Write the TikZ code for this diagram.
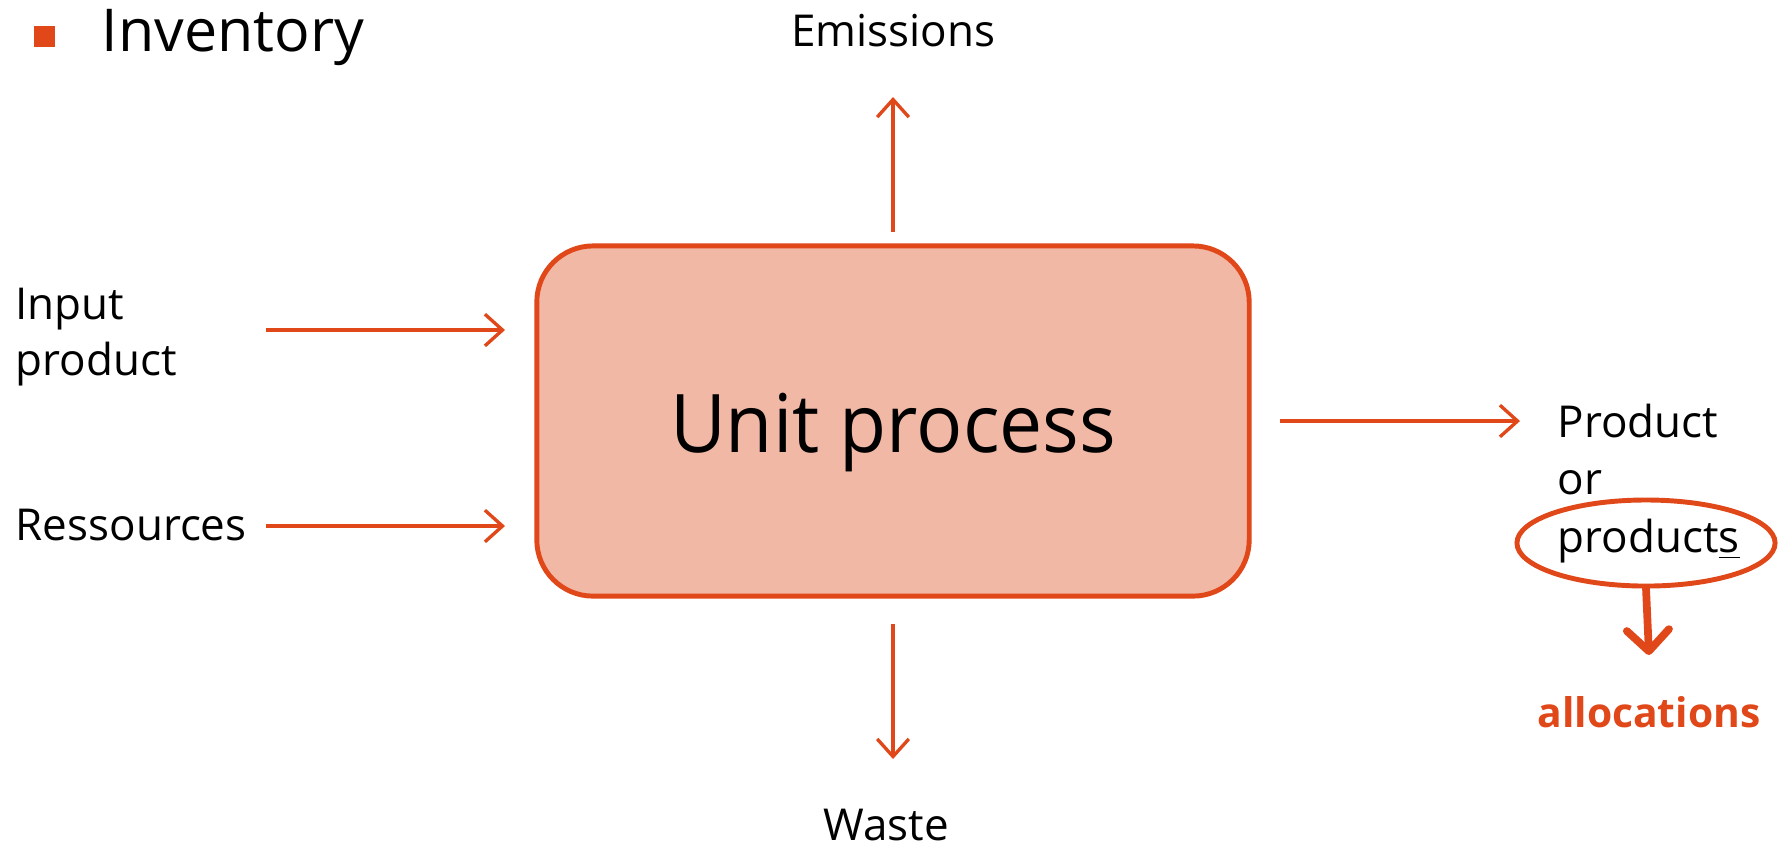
\documentclass[tikz,border=0pt]{standalone}
\usepackage{fontspec}
\setmainfont{Open Sans}
\usetikzlibrary{arrows.meta,shapes.geometric}
\definecolor{accent}{HTML}{E0481A}
\definecolor{boxfill}{HTML}{F1B8A6}
\tikzset{
  flow/.style={draw=accent, line width=0.95pt, -{Straight Barb[length=5pt,width=9pt,line width=0.95pt]}},
  bigflow/.style={draw=accent, line width=2.2pt, line cap=round, -{Straight Barb[length=6pt,width=12pt,line width=2.2pt,round]}},
  lbl/.style={inner sep=0pt, font=\fontsize{12.5}{15.6}\selectfont, text=black},
}
\begin{document}
\begin{tikzpicture}[x=0.01cm,y=-0.01cm]
  \useasboundingbox (0,0) rectangle (1789,850);

  % heading with bullet
  \fill[accent] (34,26) rectangle (55,47);
  \node[inner sep=0pt, anchor=base west, font=\fontsize{16.8}{20}\selectfont] (title) at (101,51) {Inventory};

  % central process box
  \node[draw=accent, line width=1.4pt, fill=boxfill, rounded corners=16pt,
        minimum width=7.12cm, minimum height=3.5cm, inner sep=0pt] (unit) at (893,421) {};
  \node[inner sep=0pt, anchor=base, font=\fontsize{23}{27}\selectfont] (unitlbl) at (893,452)
        {\scalebox{0.95}[1]{Unit process}};

  % inputs
  \node[lbl, anchor=base west] (inprod) at (15,319) {Input};
  \node[lbl, anchor=base west] (inprod2) at (15,375) {product};
  \node[lbl, anchor=base west] (res) at (15,540) {Ressources};
  \coordinate (inA) at (266,330);  \coordinate (inB) at (505,330);
  \coordinate (resA) at (266,526); \coordinate (resB) at (505,526);
  \draw[flow] (inA) -- (inB);
  \draw[flow] (resA) -- (resB);

  % emissions and waste
  \node[lbl, anchor=base] (emis) at (893,46) {Emissions};
  \coordinate (emA) at (893,232); \coordinate (emB) at (893,97);
  \draw[flow] (emA) -- (emB);
  \node[lbl, anchor=base] (waste) at (886,840) {Waste};
  \coordinate (waA) at (893,624); \coordinate (waB) at (893,759);
  \draw[flow] (waA) -- (waB);

  % outputs
  \coordinate (outA) at (1280,421); \coordinate (outB) at (1520,421);
  \draw[flow] (outA) -- (outB);
  \node[lbl, anchor=base west] (prod) at (1557,437) {Product};
  \node[lbl, anchor=base west] (or) at (1557,494) {or};
  \node[lbl, anchor=base west] (prods) at (1557,552) {product\underline{s}};
  \node[draw=accent, line width=1.4pt, ellipse, inner sep=0pt,
        minimum width=2.58cm, minimum height=0.86cm] (ell) at (1646,543) {};

  % allocation
  \node[inner sep=0pt, anchor=base, font=\bfseries\fontsize{11.6}{14}\selectfont, text=accent] (alloc) at (1649,727) {allocations};
  \coordinate (allocTip) at (1649,655);
  \draw[bigflow] (ell.south) -- (allocTip);
\end{tikzpicture}
\end{document}
